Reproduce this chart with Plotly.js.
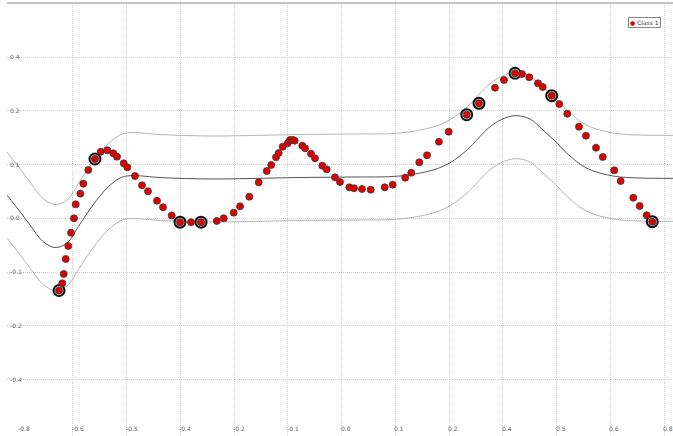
<!DOCTYPE html>
<html>
<head>
<meta charset="utf-8">
<script src="https://cdn.plot.ly/plotly-3.0.1.min.js"></script>
<style>html,body{margin:0;padding:0;background:#fff;}#chart{width:673px;height:436px;}</style>
</head>
<body>
<div id="chart"></div>
<script>
// Sample points (Class 1)
const pointX = [-0.6574,-0.6498,-0.6465,-0.6419,-0.6359,-0.6295,-0.6226,-0.6186,-0.6079,-0.6009,-0.5893,-0.5738,-0.5605,-0.5451,-0.5312,-0.5225,-0.5070,-0.4986,-0.4807,-0.4644,-0.4505,-0.4295,-0.4156,-0.3953,-0.3760,-0.3504,-0.3272,-0.2906,-0.2744,-0.2512,-0.2365,-0.2149,-0.1930,-0.1744,-0.1638,-0.1528,-0.1465,-0.1372,-0.1256,-0.1203,-0.1139,-0.1093,-0.0916,-0.0853,-0.0714,-0.0621,-0.0451,-0.0349,-0.0156,-0.0039,0.0177,0.0286,0.0472,0.0674,0.1000,0.1186,0.1477,0.1618,0.1804,0.1984,0.2262,0.2488,0.2907,0.3193,0.3565,0.3774,0.4031,0.4193,0.4363,0.4565,0.4675,0.4884,0.5060,0.5246,0.5518,0.5681,0.5914,0.6070,0.6339,0.6488,0.6781,0.6930,0.7093,0.7223];
const pointY = [-0.1679,-0.1512,-0.1295,-0.0946,-0.0644,-0.0335,0.0000,0.0325,0.0573,0.0805,0.1123,0.1379,0.1549,0.1581,0.1512,0.1433,0.1279,0.1186,0.0984,0.0768,0.0628,0.0409,0.0256,0.0065,-0.0090,-0.0090,-0.0090,-0.0062,0.0000,0.0131,0.0279,0.0502,0.0837,0.1100,0.1240,0.1419,0.1519,0.1665,0.1744,0.1821,0.1821,0.1804,0.1689,0.1628,0.1502,0.1395,0.1224,0.1139,0.0953,0.0844,0.0721,0.0698,0.0681,0.0665,0.0721,0.0782,0.0944,0.1058,0.1302,0.1465,0.1781,0.2014,0.2409,0.2674,0.3037,0.3216,0.3373,0.3355,0.3279,0.3139,0.3053,0.2851,0.2658,0.2432,0.2130,0.1921,0.1642,0.1426,0.1116,0.0867,0.0479,0.0286,0.0070,-0.0079];

// Support vectors (ringed points)
const svX = [-0.6574,-0.5738,-0.3760,-0.3272,0.2907,0.3193,0.4031,0.4884,0.7223];
const svY = [-0.1679,0.1379,-0.0090,-0.0090,0.2409,0.2674,0.3373,0.2851,-0.0079];

// Regression curve (mean) and tube half-width
const curveX = [-0.7784,-0.7482,-0.7249,-0.6946,-0.6668,-0.6389,-0.6086,-0.5784,-0.5458,-0.5156,-0.4923,-0.4156,-0.3063,-0.2133,-0.0970,0.0193,0.1356,0.2123,0.2519,0.2914,0.3449,0.3798,0.4077,0.4379,0.4682,0.4961,0.5239,0.5704,0.6309,0.6937,0.7705];
const curveY = [0.0541,0.0154,-0.0156,-0.0540,-0.0679,-0.0575,-0.0133,0.0309,0.0704,0.0937,0.0991,0.0944,0.0914,0.0925,0.0949,0.0960,0.0984,0.1123,0.1293,0.1588,0.2130,0.2333,0.2386,0.2310,0.2053,0.1797,0.1512,0.1162,0.0984,0.0937,0.0930];
const epsilon = 0.1;
const upperY = curveY.map(v => v + epsilon);
const lowerY = curveY.map(v => v - epsilon);

// Axis ticks
const xTickVals = [-0.75,-0.625,-0.5,-0.375,-0.25,-0.125,0,0.125,0.25,0.375,0.5,0.625,0.75];
const xTickText = ['-0.8','-0.6','-0.5','-0.4','-0.2','-0.1','0.0','0.1','0.2','0.4','0.5','0.6','0.8'];
const yTickVals = [-0.375,-0.25,-0.125,0,0.125,0.25,0.375];
const yTickText = ['-0.4','-0.2','-0.1','0.0','0.1','0.2','0.4'];

const traces = [
  {x: curveX, y: upperY, mode: 'lines', line: {color: '#b4b4b4', width: 1, shape: 'spline', smoothing: 1}, showlegend: false, hoverinfo: 'skip'},
  {x: curveX, y: lowerY, mode: 'lines', line: {color: '#b4b4b4', width: 1, shape: 'spline', smoothing: 1}, showlegend: false, hoverinfo: 'skip'},
  {x: curveX, y: curveY, mode: 'lines', line: {color: '#555555', width: 1, shape: 'spline', smoothing: 1}, showlegend: false, hoverinfo: 'skip'},
  {x: svX, y: svY, mode: 'markers', marker: {symbol: 'circle', size: 11, color: 'rgba(190,190,190,0.7)', line: {color: '#111', width: 2}}, showlegend: false},
  {x: pointX, y: pointY, mode: 'markers', name: 'Class 1', marker: {symbol: 'circle', size: 7, color: '#e00000', line: {color: '#3a3a3a', width: 0.8}}, showlegend: false}
];

const tickFont = {family: 'DejaVu Sans, sans-serif', size: 6, color: '#666'};

const xLabelAnnotations = xTickVals.map((v, i) => ({
  x: v, xref: 'x', y: 0, yref: 'paper', xanchor: 'left', yanchor: 'bottom',
  xshift: -2, yshift: 3, showarrow: false, text: xTickText[i], font: tickFont, borderpad: 0
}));

const layout = {
  width: 673, height: 436,
  margin: {l: 7, r: 0, t: 3, b: 0, pad: 0},
  paper_bgcolor: '#fff', plot_bgcolor: '#fff',
  showlegend: false,
  xaxis: {
    range: [-0.7784, 0.7705], tickvals: xTickVals, ticktext: xTickText,
    showticklabels: false, ticks: '',
    showgrid: true, gridcolor: '#d2d2d2', griddash: '1px,1px', gridwidth: 1,
    zeroline: false, showline: false, fixedrange: true
  },
  yaxis: {
    range: [-0.5063, 0.5007], tickvals: yTickVals, ticktext: yTickText,
    ticklabelposition: 'inside', tickfont: tickFont, ticks: '',
    showgrid: true, gridcolor: '#d2d2d2', griddash: '1px,1px', gridwidth: 1,
    zeroline: false, showline: false, fixedrange: true
  },
  shapes: [
    {type: 'line', xref: 'paper', yref: 'paper', x0: 0, x1: 1, y0: 1, y1: 1, line: {color: '#b0b0b0', width: 1.5}}
  ],
  annotations: xLabelAnnotations.concat([
    {xref: 'paper', yref: 'paper', x: 0.9325, y: 0.968, xanchor: 'left', yanchor: 'top', showarrow: false,
     text: '<span style="color:#e00000">●</span> Class 1', font: {family: 'DejaVu Sans, sans-serif', size: 6, color: '#333'},
     bordercolor: '#888', borderwidth: 1, borderpad: 1, bgcolor: '#fff'}
  ])
};

Plotly.newPlot('chart', traces, layout, {staticPlot: true, displayModeBar: false});
</script>
</body>
</html>
